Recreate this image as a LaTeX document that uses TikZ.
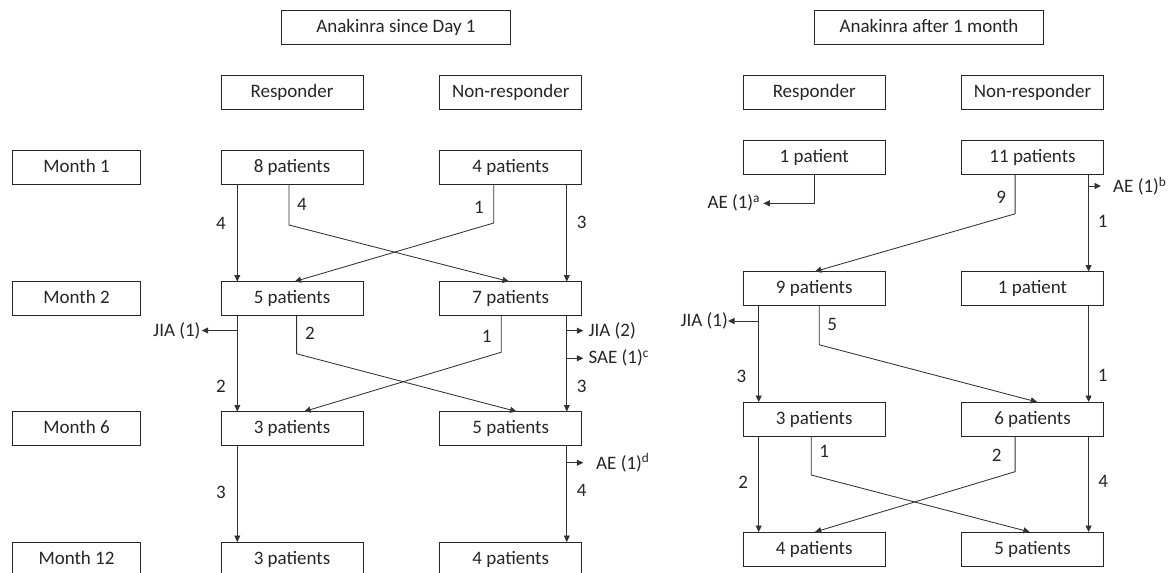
\documentclass[tikz,border=0pt]{standalone}
\usepackage{fontspec}
\setmainfont{Carlito}
\usetikzlibrary{arrows.meta}
\begin{document}
\begin{tikzpicture}[x=1pt,y=-1pt,
  every node/.style={font=\fontsize{19}{22}\selectfont, text=black!85},
  box/.style={draw=black!85, line width=0.9pt, minimum width=142pt, minimum height=34pt, inner sep=0pt, outer sep=0pt, text height=13pt, text depth=3pt},
  mbox/.style={box, minimum width=128.6pt},
  tbox/.style={box, minimum width=229pt},
  arr/.style={draw=black!80, line width=0.85pt, -{Triangle[length=6.5pt,width=6pt]}},
  lbl/.style={inner sep=0pt},
  sidel/.style={inner ysep=0pt, anchor=west},
  sider/.style={inner ysep=0pt, anchor=east}]
\fill[white] (0,0) rectangle (1176,573);
\useasboundingbox (0,0) rectangle (1176,573);

% ---------------- left panel ----------------
\node[tbox] (tL) at (396,27) {Anakinra since Day 1};
\node[box] (rL) at (292,92) {Responder};
\node[box] (nL) at (510.7,92) {Non-responder};

\node[mbox] (m1) at (76.5,167) {Month 1};
\node[mbox] (m2) at (76.5,298.5) {Month 2};
\node[mbox] (m6) at (76.5,428.5) {Month 6};
\node[mbox] (m12) at (76.5,559) {Month 12};

\node[box] (a8) at (292,167) {8 patients};
\node[box] (a4) at (510.7,167) {4 patients};
\node[box] (a5) at (292,298.5) {5 patients};
\node[box] (a7) at (510.7,298.5) {7 patients};
\node[box] (a3) at (292,428.5) {3 patients};
\node[box] (b5) at (510.7,428.5) {5 patients};
\node[box] (c3) at (292,559) {3 patients};
\node[box] (c4) at (510.7,559) {4 patients};

% month 1 -> month 2
\draw[arr] ([xshift=-54.7pt]a8.south) -- ([xshift=-54.7pt]a5.north);
\draw[arr] ([xshift=-3pt]a8.south) -- ++(0,41) -- ([xshift=-1.7pt]a7.north);
\draw[arr] ([xshift=-17pt]a4.south) -- ++(0,39) -- ([xshift=2.7pt]a5.north);
\draw[arr] ([xshift=56.1pt]a4.south) -- ([xshift=56.1pt]a7.north);
\node[lbl] (l1) at (221,223) {4};
\node[lbl] (l2) at (302,204) {4};
\node[lbl] (l3) at (479,207) {1};
\node[lbl] (l4) at (581.7,222) {3};

% month 2 -> month 6
\draw[arr] ([xshift=-54.7pt]a5.south) -- ([xshift=-54.7pt]a3.north);
\draw[arr] ([xshift=4.6pt]a5.south) -- ++(0,38.3) -- ([xshift=5.9pt]b5.north);
\draw[arr] ([xshift=-9.4pt]a7.south) -- ++(0,36.7) -- ([xshift=12.2pt]a3.north);
\draw[arr] ([xshift=56.1pt]a7.south) -- ([xshift=56.1pt]b5.north);
\node[lbl] (l5) at (310,333) {2};
\node[lbl] (l6) at (486.8,336) {1};
\node[lbl] (l7) at (221,386.7) {2};
\node[lbl] (l8) at (581.7,386) {3};

\coordinate (tj1) at (237.3,330.5);
\node[sider, inner xsep=1pt] (jia1) at (201.7,330.5) {JIA (1)};
\draw[arr] (tj1) -- (jia1.east);
\coordinate (tj2) at (566.8,330.7);
\node[sidel, inner xsep=5pt] (jia2) at (583.3,330.7) {JIA (2)};
\draw[arr] (tj2) -- (jia2.west);
\coordinate (ts1) at (566.8,358.3);
\node[sidel, inner xsep=5pt] (sae) at (583.3,358.3) {SAE (1)\textsuperscript{c}};
\draw[arr] (ts1) -- (sae.west);

% month 6 -> month 12
\draw[arr] ([xshift=-54.7pt]a3.south) -- ([xshift=-54.7pt]c3.north);
\draw[arr] ([xshift=56.1pt]b5.south) -- ([xshift=56.1pt]c4.north);
\node[lbl] (l9) at (221,492.7) {3};
\node[lbl] (l10) at (581.7,490.7) {4};
\coordinate (td) at (566.8,462.7);
\node[sidel, inner xsep=12.7pt] (aed) at (583.3,462.7) {AE (1)\textsuperscript{d}};
\draw[arr] (td) -- (aed.west);

% ---------------- right panel ----------------
\node[tbox] (tR) at (929,27) {Anakinra after 1 month};
\node[box] (rR) at (814.2,92) {Responder};
\node[box] (nR) at (1032.5,92) {Non-responder};

\node[box] (d1) at (814.2,157.5) {1 patient};
\node[box] (d11) at (1032.5,157.5) {11 patients};
\node[box] (d9) at (814.2,288.5) {9 patients};
\node[box] (e1) at (1032.5,288.5) {1 patient};
\node[box] (f3) at (814.2,419) {3 patients};
\node[box] (f6) at (1032.5,419) {6 patients};
\node[box] (g4) at (814.2,549) {4 patients};
\node[box] (g5) at (1032.5,549) {5 patients};

\node[sider, inner xsep=3pt] (aea) at (763.3,203.3) {AE (1)\textsuperscript{a}};
\draw[arr] (d1.south) |- (aea.east);

\draw[arr] ([xshift=-17.4pt]d11.south) -- ++(0,39.3) -- ([xshift=0.7pt]d9.north);
\draw[arr] ([xshift=56.1pt]d11.south) -- ([xshift=56.1pt]e1.north);
\coordinate (tb) at (1088.6,186);
\node[sidel, inner xsep=12pt] (aeb) at (1101,186) {AE (1)\textsuperscript{b}};
\draw[arr] (tb) -- (aeb.west);
\node[lbl] (r1) at (1001.2,197) {9};
\node[lbl] (r2) at (1102.6,221.7) {1};

\draw[arr] ([xshift=-55.5pt]d9.south) -- ([xshift=-55.5pt]f3.north);
\draw[arr] ([xshift=5.1pt]d9.south) -- ++(0,39.3) -- ([xshift=4.7pt]f6.north);
\draw[arr] ([xshift=56.1pt]e1.south) -- ([xshift=56.1pt]f6.north);
\coordinate (tj3) at (758.7,321);
\node[sider, inner xsep=0pt] (jia3) at (728,321) {JIA (1)};
\draw[arr] (tj3) -- (jia3.east);
\node[lbl] (r3) at (832.2,324) {5};
\node[lbl] (r4) at (741.4,376) {3};
\node[lbl] (r5) at (1102.6,375) {1};

\draw[arr] ([xshift=-55.5pt]f3.south) -- ([xshift=-55.5pt]g4.north);
\draw[arr] ([xshift=-3pt]f3.south) -- ++(0,39) -- ([xshift=-2.7pt]g5.north);
\draw[arr] ([xshift=-17.4pt]f6.south) -- ++(0,35.7) -- ([xshift=0.7pt]g4.north);
\draw[arr] ([xshift=56.1pt]f6.south) -- ([xshift=56.1pt]g5.north);
\node[lbl] (r6) at (824.1,451.7) {1};
\node[lbl] (r7) at (996.8,455) {2};
\node[lbl] (r8) at (743.3,482.7) {2};
\node[lbl] (r9) at (1103.3,481.7) {4};
\end{tikzpicture}
\end{document}
